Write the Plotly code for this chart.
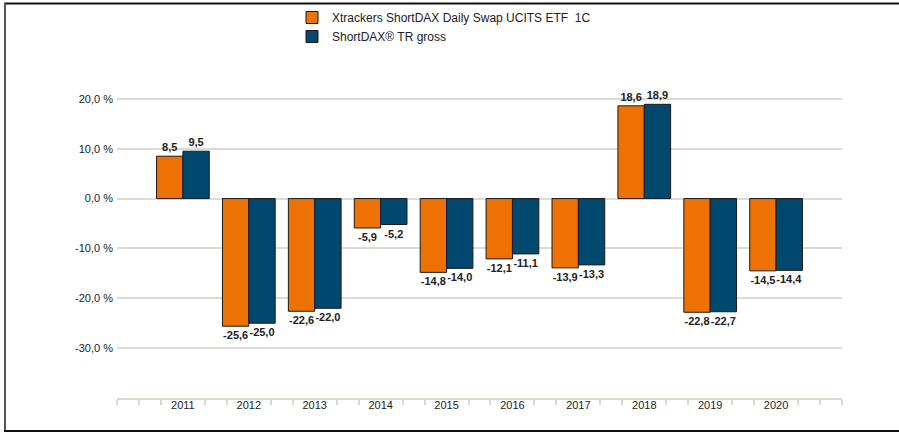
import plotly.graph_objects as go

years = [2011, 2012, 2013, 2014, 2015, 2016, 2017, 2018, 2019, 2020]
etf_values = [8.5, -25.6, -22.6, -5.9, -14.8, -12.1, -13.9, 18.6, -22.8, -14.5]
index_values = [9.5, -25.0, -22.0, -5.2, -14.0, -11.1, -13.3, 18.9, -22.7, -14.4]
series_names = ["Xtrackers ShortDAX Daily Swap UCITS ETF  1C", "ShortDAX® TR gross"]
y_ticks = [-30, -20, -10, 0, 10, 20]

def fmt(v):
    return f"{v:.1f}".replace(".", ",")

W, H = 899, 433
L, R, T, B = 117, 57, 49, 35
pw, ph = W - L - R, H - T - B

def px(x):
    return (x - L) / pw

def py(y):
    return (H - B - y) / ph

fig = go.Figure()
for name, vals, col in [(series_names[0], etf_values, "#EE7203"),
                        (series_names[1], index_values, "#00486E")]:
    fig.add_trace(go.Bar(
        x=years, y=vals, name=name,
        marker=dict(color=col, line=dict(color="#1a1a1a", width=1)),
        text=[fmt(v) for v in vals], textposition="outside",
        textfont=dict(family="Liberation Sans, Arial", size=11, color="#222", weight="bold"),
        cliponaxis=False,
    ))

minor_ticks = []
for y in range(2010, 2021):
    for k in range(3):
        v = y + k / 3
        if k == 0 and y in years:
            continue
        minor_ticks.append(v)
minor_ticks.append(2021)

fig.update_layout(
    width=W, height=H,
    margin=dict(l=L, r=R, t=T, b=B, autoexpand=False),
    paper_bgcolor="white", plot_bgcolor="white",
    barmode="group", bargap=0.2, bargroupgap=0,
    font=dict(family="Liberation Sans, Arial", size=11, color="#333"),
    showlegend=True,
    legend=dict(x=px(292), y=py(3), xanchor="left", yanchor="top",
                font=dict(size=12, color="#222"), bgcolor="rgba(0,0,0,0)",
                tracegroupgap=0, itemwidth=30),
    xaxis=dict(
        range=[2010, 2021], tickmode="array", tickvals=years,
        ticktext=[str(y) for y in years], ticks="", showgrid=False,
        showline=True, linecolor="#dcd8cf", linewidth=2, zeroline=False,
        tickfont=dict(size=11, color="#222"), automargin=False,
        ticklabelstandoff=-4,
        minor=dict(tickvals=minor_ticks, ticks="outside", ticklen=5,
                   tickcolor="#dcd8cf", tickwidth=2, showgrid=False),
    ),
    yaxis=dict(
        range=[-40, 30], tickmode="array", tickvals=y_ticks,
        ticktext=[fmt(v) + " %" for v in y_ticks], automargin=False,
        showgrid=True, gridcolor="#dddbd5", gridwidth=1.5, zeroline=False,
        showline=False, ticks="", tickfont=dict(size=11, color="#222"),
        ticklabelstandoff=3,
    ),
    shapes=[
        dict(type="line", xref="paper", yref="paper", x0=px(4), x1=px(899), y0=py(3.5), y1=py(3.5),
             line=dict(color="#111", width=2)),
        dict(type="line", xref="paper", yref="paper", x0=px(5), x1=px(5), y0=py(3), y1=py(431),
             line=dict(color="#555", width=2)),
        dict(type="line", xref="paper", yref="paper", x0=px(4), x1=px(899), y0=py(431), y1=py(431),
             line=dict(color="#111", width=2)),
    ],
)

fig.write_html("out.html", config={"displayModeBar": False},
               post_script="document.body.style.margin='0';document.body.style.overflow='hidden';")
